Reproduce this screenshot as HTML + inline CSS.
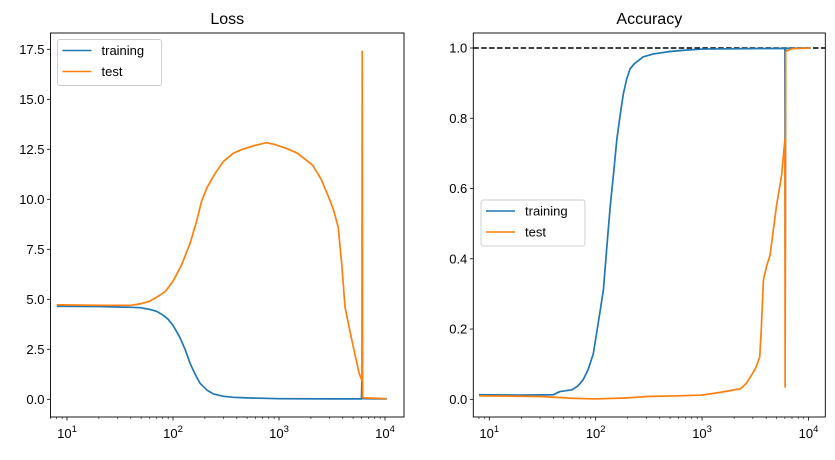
<!DOCTYPE html>
<html><head><meta charset="utf-8"><style>
body{margin:0;background:#fff;}
svg text{font-family:"Liberation Sans","DejaVu Sans",sans-serif;fill:#000;}
</style></head><body>
<svg id="c" width="835" height="455" xmlns="http://www.w3.org/2000/svg"></svg>
<script>
// ---- Loss data ----
const lossTrainSteps = [8,20,40,49,60,70,81,90,100,116,130,145,160,180,210,240,300,370,500,1000,3000,6000,6050,6100,10400];
const lossTrainVals  = [4.65,4.64,4.6,4.58,4.5,4.4,4.2,4.0,3.7,3.1,2.5,1.8,1.3,0.8,0.45,0.27,0.15,0.1,0.07,0.03,0.02,0.02,0.9,0.03,0.02];
const lossTestSteps  = [8,20.5,40,48.8,60,70,85,100,120,145,165,186,210,250,300,370,450,600,760,900,1170,1500,2080,2500,3020,3300,3620,3900,4200,4800,5700,6050,6100,6150,6300,10400];
const lossTestVals   = [4.72,4.7,4.7,4.77,4.9,5.1,5.4,5.9,6.7,7.8,8.8,9.9,10.6,11.3,11.9,12.3,12.5,12.7,12.83,12.75,12.55,12.3,11.7,11.0,9.96,9.4,8.6,6.8,4.6,3.1,1.3,0.95,17.4,0.1,0.07,0.03];
const lossYTicks = [0,2.5,5,7.5,10,12.5,15,17.5];
const lossYLabels = ["0.0","2.5","5.0","7.5","10.0","12.5","15.0","17.5"];
// ---- Accuracy data ----
const accTrainSteps = [8,20,40,46,60,68,76,85,95,106,118,127,137,148,158,170,182,195,210,230,280,350,500,700,1000,6000,6050,6100,10400];
const accTrainVals  = [0.013,0.012,0.013,0.022,0.027,0.038,0.055,0.085,0.13,0.22,0.31,0.43,0.55,0.65,0.74,0.81,0.87,0.91,0.94,0.955,0.975,0.983,0.99,0.994,0.997,0.999,0.4,0.999,1.0];
const accTestSteps  = [8,30,60,100,200,300,600,1000,1500,2300,2600,3000,3200,3480,3600,3770,4050,4350,5000,5600,6000,6030,6100,7000,10400];
const accTestVals   = [0.01,0.008,0.003,0.001,0.004,0.008,0.01,0.012,0.02,0.03,0.045,0.075,0.09,0.12,0.2,0.34,0.38,0.41,0.55,0.64,0.74,0.035,0.99,0.998,1.0];
const accYTicks = [0,0.2,0.4,0.6,0.8,1.0];
const accYLabels = ["0.0","0.2","0.4","0.6","0.8","1.0"];
const xDecades = [1,2,3,4];

const NS="http://www.w3.org/2000/svg";
const svg=document.getElementById('c');
function mk(tag,attrs,parent){const e=document.createElementNS(NS,tag);for(const k in attrs)e.setAttribute(k,attrs[k]);(parent||svg).appendChild(e);return e;}

function panel(cfg){
  const g=mk('g',{});
  
  
  const L=cfg.x0,R=cfg.x1,T=33,B=417;
  const xs=v=>cfg.d10+(Math.log10(v)-1)*cfg.dec;
  const ys=v=>cfg.y0-v*cfg.yk;
  const cid='clip'+cfg.name;
  const cp=mk('clipPath',{id:cid},g);mk('rect',{x:L,y:T,width:R-L,height:B-T},cp);
  const plot=mk('g',{'clip-path':`url(#${cid})`},g);
  if(cfg.hline!==undefined){
    const hl=mk('line',{x1:L,x2:R,y1:ys(cfg.hline),y2:ys(cfg.hline),stroke:'#000','stroke-width':1.5,'stroke-dasharray':'5.5,2.4'},plot);
    
    
  }
  const series=[[cfg.trS,cfg.trV,'#1f77b4','training-line'],[cfg.teS,cfg.teV,'#ff7f0e','test-line']];
  series.forEach(s=>{
    const d=s[0].map((st,i)=>(i?'L':'M')+xs(st).toFixed(2)+','+ys(s[1][i]).toFixed(2)).join('');
    const p=mk('path',{d:d,fill:'none',stroke:s[2],'stroke-width':1.7,'stroke-linejoin':'round'},plot);
    
    
  });
  const fr=mk('rect',{x:L,y:T,width:R-L,height:B-T,fill:'none',stroke:'#000','stroke-width':0.9},g);
  
  
  cfg.yt.forEach((v,i)=>{
    const y=ys(v);
    mk('line',{x1:L-3.5,x2:L,y1:y,y2:y,stroke:'#000','stroke-width':0.8},g);
    const t=mk('text',{x:L-6,y:y+4.5,'text-anchor':'end','font-size':13},g);
    t.textContent=cfg.yl[i];
    
    
  });
  for(let d=0;d<=4;d++){
    for(let m=1;m<10;m++){
      const v=m*Math.pow(10,d);const x=xs(v);
      if(x<L||x>R)continue;
      mk('line',{x1:x,x2:x,y1:B,y2:B+(m===1?3.5:2),stroke:'#000','stroke-width':m===1?0.8:0.6},g);
    }
  }
  xDecades.forEach(d=>{
    const x=xs(Math.pow(10,d));
    const t=mk('text',{x:x,y:438,'text-anchor':'middle','font-size':13},g);
    t.textContent='10';
    const sup=mk('tspan',{dy:-6,'font-size':9.5},t);sup.textContent=String(d);
    
    
  });
  const ti=mk('text',{x:(L+R)/2,y:24,'text-anchor':'middle','font-size':16},g);
  ti.textContent=cfg.title;
  
  
  const lg=mk('g',{},g);
  
  
  const lx=cfg.lx,ly=cfg.ly;
  mk('rect',{x:lx,y:ly,width:104,height:46,rx:2.5,fill:'#fff','fill-opacity':0.8,stroke:'#ccc','stroke-width':0.9},lg);
  [['training','#1f77b4',11],['test','#ff7f0e',32]].forEach(e=>{
    const en=mk('g',{},lg);
    
    
    mk('line',{x1:lx+5,x2:lx+34,y1:ly+e[2],y2:ly+e[2],stroke:e[1],'stroke-width':1.6},en);
    const t=mk('text',{x:lx+44,y:ly+e[2]+4.5,'font-size':13},en);t.textContent=e[0];
  });
}
panel({name:'loss-panel',title:'Loss',x0:50.5,x1:404,d10:67,dec:106,y0:399.3,yk:20,yt:lossYTicks,yl:lossYLabels,
  trS:lossTrainSteps,trV:lossTrainVals,teS:lossTestSteps,teV:lossTestVals,lx:57.5,ly:39.5});
panel({name:'accuracy-panel',title:'Accuracy',x0:473.3,x1:825.3,d10:489.3,dec:106.4,y0:399.3,yk:351.3,yt:accYTicks,yl:accYLabels,
  trS:accTrainSteps,trV:accTrainVals,teS:accTestSteps,teV:accTestVals,lx:481,ly:200,hline:1.0});
</script>
</body></html>
